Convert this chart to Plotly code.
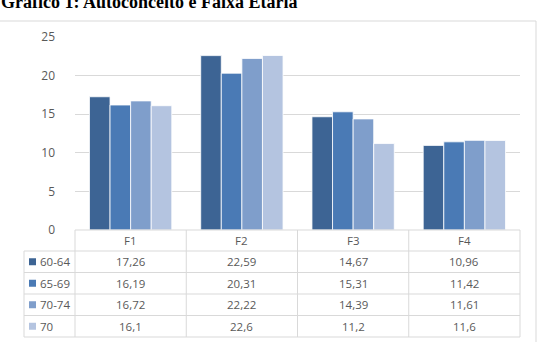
import plotly.graph_objects as go

categories = ["F1", "F2", "F3", "F4"]
series_names = ["60-64", "65-69", "70-74", "70"]
s_60_64 = [17.26, 22.59, 14.67, 10.96]
s_65_69 = [16.19, 20.31, 15.31, 11.42]
s_70_74 = [16.72, 22.22, 14.39, 11.61]
s_70 = [16.1, 22.6, 11.2, 11.6]
series_values = [s_60_64, s_65_69, s_70_74, s_70]
colors = ["#3D6494", "#4A7AB5", "#7F9ECB", "#B4C4E0"]
title = "Gráfico 1: Autoconceito e Faixa Etária"

W, H = 543, 342
L, R, T, B = 75, 520, 37, 230


def px(x):
    return (x - L) / (R - L)


def py(y):
    return (B - y) / (B - T)


FONT = "Open Sans"
FS = 11.5
GRAY = "#595959"
LINE = "#D9D9D9"

fig = go.Figure()
for name, vals, c in zip(series_names, series_values, colors):
    fig.add_trace(go.Bar(x=categories, y=vals, name=name, marker_color=c,
                         marker_line_color="white", marker_line_width=0.8))

shapes = []
annotations = []


def hline(y, x0, x1):
    shapes.append(dict(type="line", xref="paper", yref="paper", x0=px(x0), x1=px(x1),
                       y0=py(y), y1=py(y), line=dict(color=LINE, width=1), layer="above"))


def vline(x, y0, y1):
    shapes.append(dict(type="line", xref="paper", yref="paper", x0=px(x), x1=px(x),
                       y0=py(y0), y1=py(y1), line=dict(color=LINE, width=1), layer="above"))


# outer chart frame
shapes.append(dict(type="rect", xref="paper", yref="paper", x0=px(-2), x1=px(536),
                   y0=py(21), y1=py(344), line=dict(color=LINE, width=1), layer="below"))

# data table grid
ncat = len(categories)
colw = (R - L) / ncat
row_top = 251
row_h = 21.5
hline(B, L, R)
for i in range(len(series_names) + 1):
    hline(row_top + i * row_h, 24, R)
vline(24, row_top, row_top + len(series_names) * row_h)
for j in range(ncat + 1):
    vline(L + j * colw, B, row_top + len(series_names) * row_h)

# header labels
for j, cat in enumerate(categories):
    annotations.append(dict(xref="paper", yref="paper", x=px(L + (j + 0.5) * colw),
                            y=py((B + row_top) / 2), text=cat, showarrow=False,
                            xanchor="center", yanchor="middle",
                            font=dict(family=FONT, size=FS, color=GRAY)))

# rows
for i, (name, vals, c) in enumerate(zip(series_names, series_values, colors)):
    yc = row_top + (i + 0.5) * row_h
    shapes.append(dict(type="rect", xref="paper", yref="paper", x0=px(29), x1=px(36),
                       y0=py(yc - 3.5), y1=py(yc + 3.5), line=dict(width=0), fillcolor=c))
    annotations.append(dict(xref="paper", yref="paper", x=px(38), y=py(yc), text=name,
                            showarrow=False, xanchor="left", yanchor="middle",
                            font=dict(family=FONT, size=FS, color=GRAY)))
    for j, v in enumerate(vals):
        annotations.append(dict(xref="paper", yref="paper", x=px(L + (j + 0.5) * colw),
                                y=py(yc), text=str(v).replace(".", ","), showarrow=False,
                                xanchor="center", yanchor="middle",
                                font=dict(family=FONT, size=FS, color=GRAY)))

annotations.append(dict(xref="paper", yref="paper", x=px(-1), y=py(14.5), text="<b>" + title + "</b>",
                        showarrow=False, xanchor="left", yanchor="bottom",
                        font=dict(family="Liberation Serif", size=18, color="black")))

fig.update_layout(
    width=W, height=H,
    margin=dict(l=L, r=W - R, t=T, b=H - B, pad=0),
    paper_bgcolor="white", plot_bgcolor="white",
    barmode="group", bargap=0.26, bargroupgap=0,
    showlegend=False,
    shapes=shapes, annotations=annotations,
    xaxis=dict(showticklabels=False, showgrid=False, zeroline=False, showline=False),
    yaxis=dict(range=[0, 25], dtick=5, showgrid=True, gridcolor=LINE, gridwidth=1,
               zeroline=False, showline=False, ticks="",
               tickfont=dict(family=FONT, size=12, color=GRAY), ticklabelstandoff=19),
)

fig.write_html("out.html")
